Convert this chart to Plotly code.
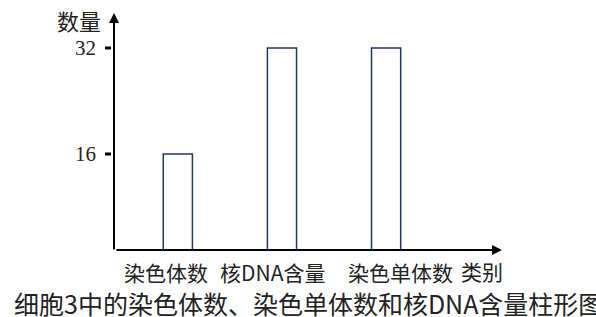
import plotly.graph_objects as go

categories = ["染色体数", "核DNA含量", "染色单体数"]
values = [16, 32, 32]
tick_values = [16, 32]
tick_labels = ["16", "32"]
y_title = "数量"
x_title = "类别"
caption = "细胞3中的染色体数、染色单体数和核DNA含量柱形图"

xs = list(range(len(categories)))

fig = go.Figure()
fig.add_trace(go.Bar(
    x=xs, y=values, width=0.28,
    marker=dict(color="rgba(255,255,255,0)", line=dict(color="#1F3864", width=1.5)),
    showlegend=False, hoverinfo="skip",
))

cjk = "Noto Sans CJK SC"
label_offsets = [-0.11, -0.09, 0.14]
for x, name, off in zip(xs, categories, label_offsets):
    fig.add_annotation(x=x + off, y=0, xref="x", yref="paper", text=name,
                       showarrow=False, yanchor="middle", yshift=-22,
                       font=dict(family=cjk, size=21, color="#222"))
fig.add_annotation(x=1, y=0, xref="paper", yref="paper", text=x_title,
                   showarrow=False, xanchor="right", yanchor="middle", yshift=-21, xshift=3,
                   font=dict(family=cjk, size=21, color="#222"))
fig.add_annotation(x=0, y=1, xref="paper", yref="paper", text=y_title,
                   showarrow=False, xanchor="right", yanchor="middle", xshift=-11, yshift=-7,
                   font=dict(family=cjk, size=22, color="#222"))
fig.add_annotation(x=0.5, y=0, xref="paper", yref="paper", text=caption,
                   showarrow=False, xanchor="center", yanchor="middle", yshift=-53,
                   font=dict(family=cjk, size=25, color="#222"))
# axis arrows
fig.add_annotation(x=0, y=1, xref="paper", yref="paper", text="", showarrow=True,
                   ax=0, ay=238, arrowhead=2, arrowsize=1, arrowwidth=2, arrowcolor="black")
fig.add_annotation(x=1, y=0, xref="paper", yref="paper", text="", showarrow=True,
                   ax=-387, ay=0, arrowhead=2, arrowsize=1, arrowwidth=2, arrowcolor="black")
# tick marks (short thick dashes left of the y axis)
for tv in tick_values:
    fig.add_shape(type="line", xref="paper", yref="y", x0=-0.0233, x1=-0.0078, y0=tv, y1=tv,
                  line=dict(color="black", width=3))

fig.update_layout(
    width=596, height=317,
    margin=dict(l=114, r=94, t=13, b=67, autoexpand=False),
    plot_bgcolor="white", paper_bgcolor="white",
    xaxis=dict(range=[-0.613, 3.113], showticklabels=False, ticks="", showgrid=False,
               zeroline=False, showline=False, fixedrange=True, automargin=False),
    yaxis=dict(range=[1.51, 37.28], tickvals=tick_values, ticktext=tick_labels,
               ticks="", ticklabelstandoff=17, automargin=False,
               tickfont=dict(family="Liberation Serif", size=21, color="#222"),
               showgrid=False, zeroline=False, showline=False, fixedrange=True),
)
fig.write_html("out.html", config={"displayModeBar": False},
               post_script="document.body.style.margin='0';document.body.style.overflow='hidden';")
